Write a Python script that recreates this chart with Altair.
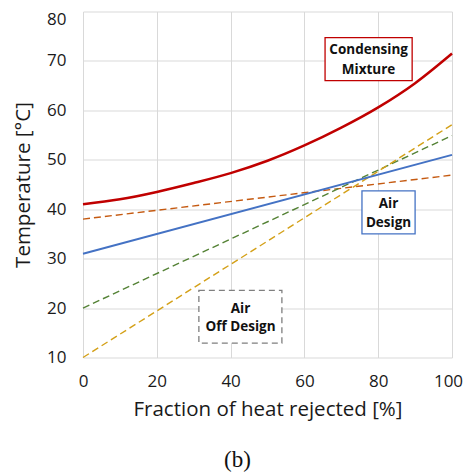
import altair as alt
import pandas as pd

# Data
frac = [0, 10, 20, 30, 40, 50, 60, 70, 80, 90, 100]
condensing = [41.0, 42.0, 43.5, 45.3, 47.3, 49.8, 52.9, 56.5, 60.6, 65.5, 71.5]

lin_x = [0, 100]
air_design = [31.0, 51.0]
line_orange = [38.0, 46.9]
line_green = [20.0, 54.9]
line_gold = [10.0, 57.1]

x_ticks = [0, 20, 40, 60, 80, 100]
y_ticks = [10, 20, 30, 40, 50, 60, 70, 80]

# Annotation boxes (data space)
box_names = ["cond", "air", "off"]
box_x1 = [65.6, 75.6, 31.4]
box_x2 = [89.2, 90.0, 53.9]
box_y1 = [66.0, 35.0, 12.9]
box_y2 = [74.7, 43.7, 23.6]
box_col = ["#C00000", "#4472C4", "#7F7F7F"]

label_text = ["Condensing", "Mixture", "Air", "Design", "Air", "Off Design"]
label_x = [77.4, 77.4, 82.8, 82.8, 42.7, 42.7]
label_y = [72.2, 68.2, 41.1, 37.3, 19.9, 16.1]

FONT = "Open Sans"

xs = alt.X("x:Q", scale=alt.Scale(domain=[0, 100], nice=False),
           axis=alt.Axis(values=x_ticks, title="Fraction of heat rejected [%]",
                         grid=True, gridColor="#d9d9d9", domain=False, ticks=False,
                         labelFlush=False,
                         labelOffset={"condition": {"test": "datum.value == 100", "value": -4}, "value": 0},
                         labelFontSize=17, labelPadding=16, labelColor="#1a1a1a",
                         titleFontSize=20.5, titleFontWeight="normal", titlePadding=10,
                         titleColor="#1a1a1a", labelFont=FONT, titleFont=FONT))
ys = alt.Y("y:Q", scale=alt.Scale(domain=[10, 80], nice=False),
           axis=alt.Axis(values=y_ticks, title="Temperature [°C]",
                         grid=True, gridColor="#d9d9d9", domain=False, ticks=False,
                         labelFlush=False,
                         labelFontSize=17, labelPadding=17, labelColor="#1a1a1a",
                         labelOffset={"condition": {"test": "datum.value == 80", "value": 8}, "value": 0},
                         titleFontSize=20.5, titleFontWeight="normal", titlePadding=13,
                         titleColor="#1a1a1a", labelFont=FONT, titleFont=FONT))

cond_df = pd.DataFrame({"x": frac, "y": condensing})
def lin(vals):
    return pd.DataFrame({"x": lin_x, "y": vals})

base_red = alt.Chart(cond_df).mark_line(color="#C00000", strokeWidth=2.5,
                                          interpolate="monotone").encode(x=xs, y=ys)
blue = alt.Chart(lin(air_design)).mark_line(color="#4472C4", strokeWidth=2).encode(x="x:Q", y="y:Q")
orange = alt.Chart(lin(line_orange)).mark_line(color="#C55A11", strokeWidth=1.4,
                                               strokeDash=[7, 4]).encode(x="x:Q", y="y:Q")
green = alt.Chart(lin(line_green)).mark_line(color="#548235", strokeWidth=1.4,
                                             strokeDash=[7, 4]).encode(x="x:Q", y="y:Q")
gold = alt.Chart(lin(line_gold)).mark_line(color="#D4A017", strokeWidth=1.4,
                                           strokeDash=[7, 4]).encode(x="x:Q", y="y:Q")

box_df = pd.DataFrame({"name": box_names, "x": box_x1, "x2": box_x2,
                       "y": box_y1, "y2": box_y2, "col": box_col})
boxes_solid = alt.Chart(box_df[box_df.name != "off"]).mark_rect(
    fill="white", strokeWidth=1.3).encode(
    x="x:Q", x2="x2", y="y:Q", y2="y2",
    stroke=alt.Stroke("col:N", scale=None))
boxes_dash = alt.Chart(box_df[box_df.name == "off"]).mark_rect(
    fill="white", strokeWidth=1.3, strokeDash=[6, 4]).encode(
    x="x:Q", x2="x2", y="y:Q", y2="y2",
    stroke=alt.Stroke("col:N", scale=None))

lab_df = pd.DataFrame({"t": label_text, "x": label_x, "y": label_y})
labels = alt.Chart(lab_df).mark_text(font=FONT, fontSize=13.5, fontWeight="bold",
                                     color="#111111", align="center", baseline="middle").encode(
    x="x:Q", y="y:Q", text="t:N")

chart = alt.layer(base_red, orange, green, gold, blue, boxes_solid, boxes_dash, labels).properties(
    width=369, height=346,
    autosize=alt.AutoSizeParams(type="none"),
    padding={"left": 75, "top": 3.5, "right": 13, "bottom": 115.5},
    title=alt.TitleParams("(b)", orient="bottom", font="Liberation Serif", fontSize=23,
                          fontWeight="normal", color="#111111", offset=29, anchor="middle",
                          dx=-30),
).configure_view(stroke=None)

chart.save("out.html", embed_options={"renderer": "svg", "actions": False})
